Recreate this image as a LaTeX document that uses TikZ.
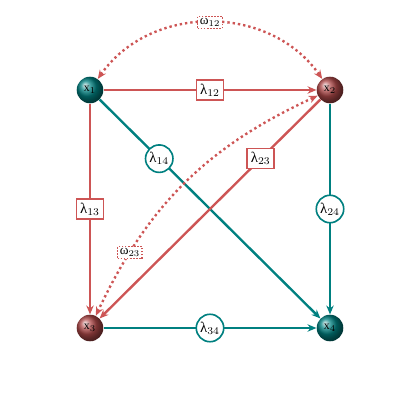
\documentclass[tikz,border=0pt]{standalone}
\usepackage{fontspec}
\setmainfont{Liberation Serif}
\usetikzlibrary{arrows.meta}
\definecolor{linkred}{RGB}{205,85,85}
\definecolor{linkteal}{RGB}{0,128,128}
\tikzset{
  var/.style={circle, minimum size=18pt, inner sep=0pt, font=\footnotesize},
  redvar/.style={var, ball color=linkred!85!black},
  tealvar/.style={var, ball color=linkteal},
  rlink/.style={draw=linkred, line width=1.6pt, -{Stealth[length=6pt,width=5pt]}},
  tlink/.style={draw=linkteal, line width=1.6pt, -{Stealth[length=6pt,width=5pt]}},
  wlink/.style={draw=linkred, line width=1.6pt, dotted, {Stealth[length=6pt,width=5pt]}-{Stealth[length=6pt,width=5pt]}},
  rlab/.style={rectangle, draw=linkred, fill=white, solid, line width=1.1pt, inner sep=2.5pt},
  tlab/.style={circle, draw=linkteal, fill=white, line width=1.1pt, inner sep=1pt},
  wlab/.style={rectangle, draw=linkred, fill=white, densely dotted, line width=1.1pt, inner sep=1.5pt, font=\small}
}
\begin{document}
\begin{tikzpicture}[x=0.0238cm, y=-0.0238cm]
  \useasboundingbox (0,0) rectangle (420,420);
  % Variables
  \node[tealvar] (x1) at (90,90)   {x$_1$};
  \node[redvar]  (x2) at (330,90)  {x$_2$};
  \node[redvar]  (x3) at (90,328)  {x$_3$};
  \node[tealvar] (x4) at (330,328) {x$_4$};
  % Direct links
  \draw[tlink] (x1) -- node[tlab, pos=0.27] {λ$_{14}$} (x4);
  \draw[rlink] (x2) -- node[rlab, pos=0.27] {λ$_{23}$} (x3);
  \draw[rlink] (x1) -- node[rlab] {λ$_{12}$} (x2);
  \draw[rlink] (x1) -- node[rlab] {λ$_{13}$} (x3);
  \draw[tlink] (x2) -- node[tlab] {λ$_{24}$} (x4);
  \draw[tlink] (x3) -- node[tlab] {λ$_{34}$} (x4);
  % Correlations
  \draw[wlink] (x1) to[bend left=55, looseness=1.05] node[wlab] {ω$_{12}$} (x2);
  \draw[wlink] (x2) to[bend right=20] node[wlab, pos=0.79] {ω$_{23}$} (x3);
\end{tikzpicture}
\end{document}
